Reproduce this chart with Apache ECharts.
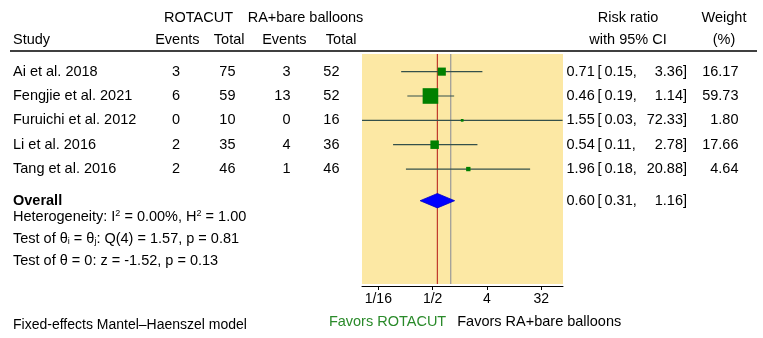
<!DOCTYPE html>
<html>
<head>
<meta charset="utf-8">
<script src="https://cdn.jsdelivr.net/npm/echarts@6/dist/echarts.min.js"></script>
<style>html,body{margin:0;padding:0;background:#fff}#c{width:763px;height:338px}</style>
</head>
<body>
<div id="c"></div>
<script>
const studies = ['Ai et al. 2018','Fengjie et al. 2021','Furuichi et al. 2012','Li et al. 2016','Tang et al. 2016'];
const rotEvents = [3, 6, 0, 2, 2];
const rotTotal = [75, 59, 10, 35, 46];
const raEvents = [3, 13, 0, 4, 1];
const raTotal = [52, 52, 16, 36, 46];
const riskRatio = [0.71, 0.46, 1.55, 0.54, 1.96];
const ciLow = [0.15, 0.19, 0.03, 0.11, 0.18];
const ciHigh = [3.36, 1.14, 72.33, 2.78, 20.88];
const weights = [16.17, 59.73, 1.80, 17.66, 4.64];
const overall = {rr: 0.60, lo: 0.31, hi: 1.16};
const tickValues = [1/16, 1/2, 4, 32];
const tickLabels = ['1/16', '1/2', '4', '32'];
const overallRow = 5.3;

const FONT = '"Liberation Sans", Arial, sans-serif';
const FS = 14.5;
const log2 = v => Math.log(v) / Math.LN2;
const fmt = v => v.toFixed(2);

const chart = echarts.init(document.getElementById('c'), null, {renderer: 'canvas'});

const studyData = studies.map((s, i) => [log2(ciLow[i]), log2(ciHigh[i]), log2(riskRatio[i]), i, weights[i]]);

chart.setOption({
  animation: false,
  grid: {left: 362, right: 200, top: 54, bottom: 54, show: true, backgroundColor: '#FCE8A4', borderWidth: 0},
  xAxis: {
    type: 'value', min: -4.9, max: 6.2, offset: 2,
    axisLine: {show: true, onZero: false, lineStyle: {color: '#000', width: 1}},
    axisTick: {show: true, length: 4, lineStyle: {color: '#000'}, customValues: tickValues.map(log2)},
    axisLabel: {show: true, fontFamily: FONT, fontSize: 14, color: '#000', margin: 6,
      customValues: tickValues.map(log2),
      formatter: v => { const k = tickValues.findIndex(t => Math.abs(log2(t) - v) < 1e-6); return k >= 0 ? tickLabels[k] : ''; }},
    splitLine: {show: false}
  },
  yAxis: {type: 'value', inverse: true, min: -0.724, max: 8.72, show: false},
  series: [
    {
      type: 'line', data: [[log2(overall.rr), -0.724], [log2(overall.rr), 8.72]],
      symbol: 'none', lineStyle: {color: '#C0392B', width: 1.2}, itemStyle: {color: '#C0392B'}, z: 2, silent: true
    },
    {
      type: 'line', data: [[0, -0.724], [0, 8.72]],
      symbol: 'none', lineStyle: {color: '#999999', width: 1.2}, itemStyle: {color: '#999999'}, z: 2, silent: true
    },
    {
      type: 'custom',
      data: studyData,
      renderItem: (params, api) => {
        const y = api.coord([0, api.value(3)])[1];
        const x1 = api.coord([api.value(0), 0])[0];
        const x2 = api.coord([api.value(1), 0])[0];
        const xc = api.coord([api.value(2), 0])[0];
        const s = 2.02 * Math.sqrt(api.value(4));
        const cs = params.coordSys;
        const clipX1 = Math.max(x1, cs.x), clipX2 = Math.min(x2, cs.x + cs.width);
        return {type: 'group', children: [
          {type: 'line', shape: {x1: clipX1, y1: y, x2: clipX2, y2: y}, style: {stroke: '#34504A', lineWidth: 1.2}},
          {type: 'rect', shape: {x: xc - s/2, y: y - s/2, width: s, height: s}, style: {fill: '#008000'}}
        ]};
      },
      z: 3
    },
    {
      type: 'custom',
      data: [[log2(overall.lo), log2(overall.hi), log2(overall.rr), overallRow]],
      renderItem: (params, api) => {
        const y = api.coord([0, api.value(3)])[1];
        const x1 = api.coord([api.value(0), 0])[0];
        const x2 = api.coord([api.value(1), 0])[0];
        const xc = api.coord([api.value(2), 0])[0];
        const h = 7.2;
        return {type: 'polygon', shape: {points: [[x1, y], [xc, y - h], [x2, y], [xc, y + h]]}, style: {fill: '#0000FF', stroke: '#0000C8', lineWidth: 0.8}};
      },
      z: 4
    }
  ]
});

// Text table, rows aligned to the chart's y scale
const rowY = i => chart.convertToPixel({gridIndex: 0}, [0, i])[1];
const nullX = chart.convertToPixel({gridIndex: 0}, [0, 0])[0];
const T = (text, x, y, align, extra) => Object.assign({
  type: 'text', x: x, y: y,
  style: Object.assign({text: text, fontFamily: FONT, fontSize: FS, fill: '#000', align: align || 'left', verticalAlign: 'middle'}, (extra || {}))
});

const g = [];
// headers
g.push(T('ROTACUT', 198.5, 18, 'center'));
g.push(T('RA+bare balloons', 305.5, 18, 'center'));
g.push(T('Risk ratio', 628, 18, 'center'));
g.push(T('Weight', 724, 18, 'center'));
g.push(T('Study', 13, 40, 'left'));
g.push(T('Events', 199.5, 40, 'right'));
g.push(T('Total', 244.5, 40, 'right'));
g.push(T('Events', 306.5, 40, 'right'));
g.push(T('Total', 356.5, 40, 'right'));
g.push(T('with 95% CI', 628, 40, 'center'));
g.push(T('(%)', 724, 40, 'center'));
g.push({type: 'line', shape: {x1: 10, y1: 51, x2: 757, y2: 51}, style: {stroke: '#000', lineWidth: 1.5}});

studies.forEach((s, i) => {
  const y = rowY(i);
  g.push(T(s, 13, y, 'left'));
  g.push(T(String(rotEvents[i]), 180, y, 'right'));
  g.push(T(String(rotTotal[i]), 235.5, y, 'right'));
  g.push(T(String(raEvents[i]), 290.5, y, 'right'));
  g.push(T(String(raTotal[i]), 339.5, y, 'right'));
  g.push(T(fmt(riskRatio[i]), 566.5, y, 'left'));
  g.push(T('[', 597.5, y, 'left'));
  g.push(T(fmt(ciLow[i]) + ',', 604.5, y, 'left'));
  g.push(T(fmt(ciHigh[i]) + ']', 687, y, 'right'));
  g.push(T(fmt(weights[i]), 738.5, y, 'right'));
});

const yo = rowY(overallRow);
g.push(T('Overall', 13, yo, 'left', {fontWeight: 'bold'}));
g.push(T(fmt(overall.rr), 566.5, yo, 'left'));
g.push(T('[', 597.5, yo, 'left'));
g.push(T(fmt(overall.lo) + ',', 604.5, yo, 'left'));
g.push(T(fmt(overall.hi) + ']', 687, yo, 'right'));

const rich = {
  a: {fontFamily: FONT, fontSize: FS, fill: '#000', lineHeight: 18},
  sup: {fontFamily: FONT, fontSize: 9, fill: '#000', lineHeight: 18, padding: [0, 0, 7, 0]},
  sub: {fontFamily: FONT, fontSize: 9, fill: '#000', lineHeight: 18, padding: [6, 0, 0, 0]}
};
const R = (text, x, y) => ({type: 'text', x: x, y: y, style: {text: text, rich: rich, fontFamily: FONT, fontSize: FS, align: 'left', verticalAlign: 'middle'}});
g.push(R('{a|Heterogeneity: I}{sup|2}{a| = 0.00%, H}{sup|2}{a| = 1.00}', 13, 217));
g.push(R('{a|Test of θ}{sub|i}{a| = θ}{sub|j}{a|: Q(4) = 1.57, p = 0.81}', 13, 239));
g.push(T('Test of θ = 0: z = -1.52, p = 0.13', 13, 260.5, 'left'));

g.push(T('Fixed-effects Mantel–Haenszel model', 13, 325, 'left', {fontSize: 14}));
g.push(T('Favors ROTACUT', nullX - 4.5, 322, 'right', {fill: '#2A8A2A'}));
g.push(T('Favors RA+bare balloons', nullX + 6.5, 322, 'left'));

chart.setOption({graphic: {elements: g}});
</script>
</body>
</html>
